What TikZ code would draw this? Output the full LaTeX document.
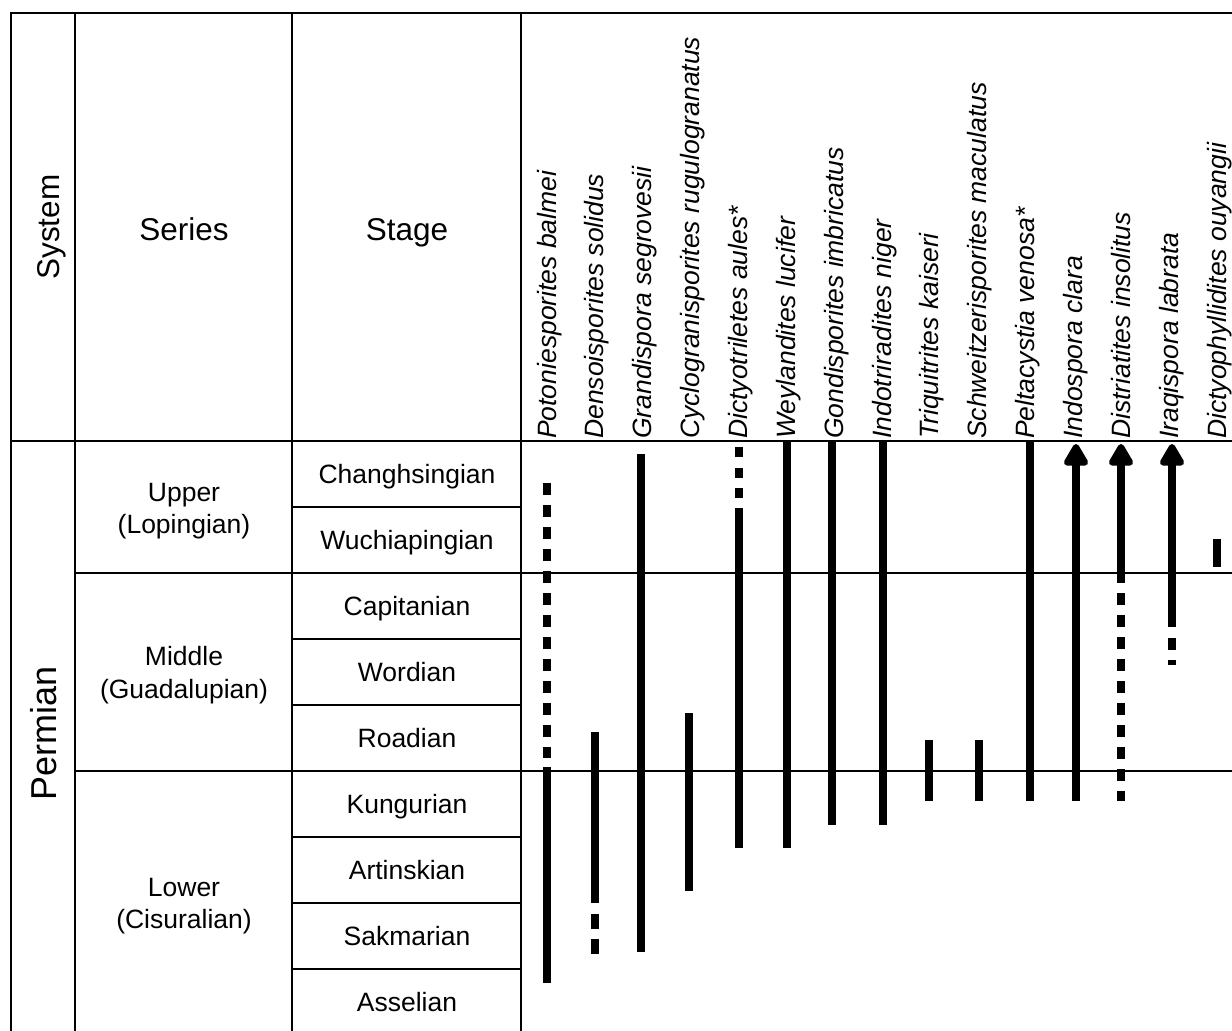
\documentclass[tikz,border=0pt]{standalone}
\usepackage{fontspec}
\setmainfont{Liberation Sans}
\usetikzlibrary{arrows.meta}

\tikzset{
  tablerule/.style={line width=2pt, line cap=rect},
  rangebar/.style={line width=7.5pt},
  rangegap/.style={rangebar, dash pattern=on 11.5pt off 10.5pt},
  openrange/.style={rangebar, -{Triangle[width=27pt,length=25pt,round]}},
  taxon/.style={rotate=90, anchor=base west, inner sep=0pt,
    font=\fontsize{26.5}{30}\selectfont\itshape},
  stagename/.style={anchor=base, inner sep=0pt, font=\fontsize{26.5}{30}\selectfont},
  seriesname/.style={align=center, inner sep=0pt, font=\fontsize{26.5}{32.5}\selectfont},
  heading/.style={anchor=base, inner sep=0pt, font=\fontsize{31.5}{36}\selectfont},
}

\begin{document}
\begin{tikzpicture}[x=1pt, y=-1pt]
    \useasboundingbox (0,0) rectangle (1232,1031);
    \clip (0,0) rectangle (1232,1031);

    % table rules
    \draw[tablerule] (11,13) -- (1240,13);
    \draw[tablerule] (11,441) -- (1240,441);
    \draw[tablerule] (75,573) -- (1240,573);
    \draw[tablerule] (75,771) -- (1240,771);
    \foreach \x in {11,75,292,521}
        \draw[tablerule] (\x,13) -- (\x,1040);
    \foreach \y in {507,639,705,837,903,969}
        \draw[tablerule] (292,\y) -- (521,\y);

    % headings
    \node[heading, rotate=90] (system) at (59,227) {System};
    \node[heading] (series) at (184,240) {Series};
    \node[heading] (stage) at (407,240) {Stage};
    \node[heading, rotate=90, font=\fontsize{36}{40}\selectfont] (permian) at (56,733) {Permian};

    % series
    \node[seriesname] (upper) at (184,511) {Upper\\(Lopingian)};
    \node[seriesname] (middle) at (184,675) {Middle\\(Guadalupian)};
    \node[seriesname] (lower) at (184,906) {Lower\\(Cisuralian)};

    % stages
    \foreach \name [count=\i from 0] in {Changhsingian,Wuchiapingian,Capitanian,Wordian,Roadian,Kungurian,Artinskian,Sakmarian,Asselian}
        \node[stagename] (stage-\i) at (407,483.5+66*\i) {\name};

    % taxa
    \foreach \name [count=\i from 0] in {Potoniesporites balmei,Densoisporites solidus,Grandispora segrovesii,Cyclogranisporites rugulogranatus,Dictyotriletes aules*,Weylandites lucifer,Gondisporites imbricatus,Indotriradites niger,Triquitrites kaiseri,Schweitzerisporites maculatus,Peltacystia venosa*,Indospora clara,Distriatites insolitus,Iraqispora labrata,Dictyophyllidites ouyangii}
        \node[taxon] (taxon-\i) at (556+47.86*\i,439) {\name};

    % ranges
    \draw[rangegap] (547,483) -- (547,758);
    \draw[rangebar] (547,767) -- (547,983);
    \draw[rangebar] (595,732) -- (595,903);
    \draw[rangebar, dash pattern=on 15pt off 10pt] (595,914) -- (595,955);
    \draw[rangebar] (641,454) -- (641,952);
    \draw[rangebar] (689,713) -- (689,891);
    \draw[rangebar, dash pattern=on 10pt off 10.5pt] (739,447) -- (739,498);
    \draw[rangebar] (739,508) -- (739,848);
    \draw[rangebar] (787,441) -- (787,848);
    \draw[rangebar] (832,441) -- (832,825);
    \draw[rangebar] (883,441) -- (883,825);
    \draw[rangebar] (929,740) -- (929,801);
    \draw[rangebar] (979,740) -- (979,801);
    \draw[rangebar] (1030,441) -- (1030,801);

    % ranges open to the top
    \draw[openrange] (1076,801) -- (1076,444);
    \draw[rangegap] (1121,593) -- (1121,801);
    \draw[openrange] (1121,583) -- (1121,444);
    \draw[rangegap] (1172,638) -- (1172,665);
    \draw[openrange] (1172,627) -- (1172,444);
    \draw[rangebar] (1217,539) -- (1217,567);
\end{tikzpicture}
\end{document}
